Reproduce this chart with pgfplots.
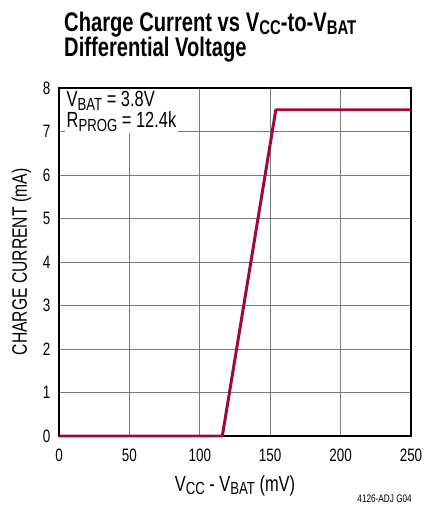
\documentclass[border=0pt]{standalone}
\usepackage{fontspec}
\setmainfont{Liberation Sans}[FakeStretch=0.75]
\usepackage{graphicx}
\usepackage{pgfplots}
\pgfplotsset{compat=1.18}
\definecolor{curve}{HTML}{9E0B3A}
\definecolor{gridc}{HTML}{7A7A7A}
\newcommand\sub[1]{\raisebox{-0.32ex}{\scalebox{0.8}{#1}}}
\newcommand\tsub[1]{\raisebox{-0.2ex}{\scalebox{0.74}{#1}}}
\begin{document}
\begin{tikzpicture}
\begin{axis}[
    scale only axis,
    width=352bp, height=348bp,
    xmin=0, xmax=250, ymin=0, ymax=8,
    xtick={0,50,...,250},
    ytick={0,1,...,8},
    grid=major,
    major grid style={gridc, line width=1pt},
    axis line style={black, line width=1.4pt},
    tick style={draw=none},
    /pgf/number format/assume math mode=true,
    ticklabel style={font=\fontsize{18}{18}\selectfont},
    xticklabel style={anchor=base, yshift=-25bp},
    yticklabel style={xshift=-5bp},
    clip=false,
]
\addplot[curve, line width=3pt, line join=round] coordinates {
    (0,0) (116,0) (154,7.5) (250,7.5)
};
\coordinate (sw) at (rel axis cs:0,0);
\coordinate (ne) at (rel axis cs:1,1);
\end{axis}
\begin{scope}[font=\fontsize{22}{22}\selectfont]
\node[anchor=base west, fill=white, inner sep=1.5bp]
    at ([shift={(6bp,-19bp)}]sw|-ne) {V\sub{BAT} = 3.8V};
\node[anchor=base west, fill=white, inner sep=1.5bp]
    at ([shift={(6bp,-40bp)}]sw|-ne) {R\sub{PROG} = 12.4k};
\node[anchor=base] at ([shift={(176bp,-55bp)}]sw)
    {V\sub{CC} - V\sub{BAT} (mV)};
\end{scope}
\node[anchor=base, rotate=90, font=\fontsize{21}{21}\selectfont]
    at ([shift={(-32bp,174bp)}]sw) {CHARGE CURRENT (mA)};
\begin{scope}[font=\bfseries\fontsize{27}{27}\selectfont]
\node[anchor=base west, inner sep=0pt] at ([shift={(5bp,56bp)}]sw|-ne)
    {Charge Current vs V\tsub{CC}-to-V\tsub{BAT}};
\node[anchor=base west, inner sep=0pt] at ([shift={(5bp,31bp)}]sw|-ne)
    {Differential Voltage};
\end{scope}
\node[anchor=base east, inner sep=0pt, font=\fontsize{11}{11}\selectfont]
    at ([shift={(1bp,-66bp)}]ne|-sw) {4126-ADJ G04};
\pgfresetboundingbox
\path[use as bounding box] ([shift={(-59bp,-70bp)}]sw) rectangle ([shift={(13bp,88bp)}]ne);
\end{tikzpicture}
\end{document}
